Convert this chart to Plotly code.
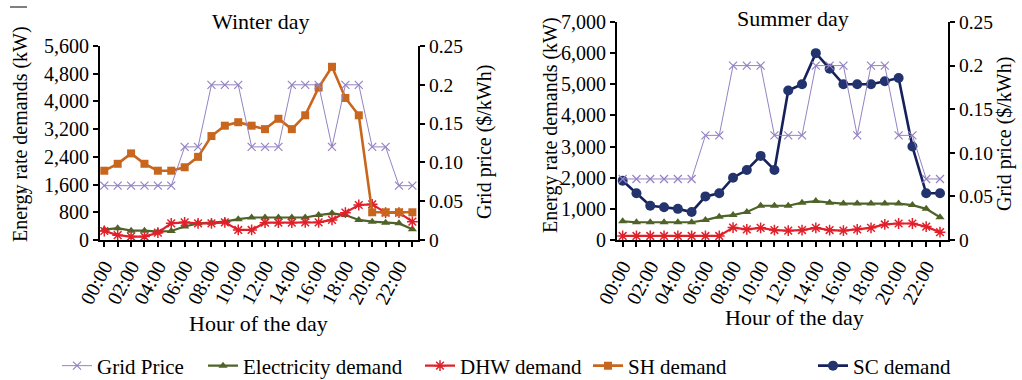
import plotly.graph_objects as go

# ---------------- data ----------------
hours = list(range(24))
hour_labels = ["00:00", "", "02:00", "", "04:00", "", "06:00", "", "08:00", "", "10:00", "",
               "12:00", "", "14:00", "", "16:00", "", "18:00", "", "20:00", "", "22:00", ""]

winter_grid_price = [0.07, 0.07, 0.07, 0.07, 0.07, 0.07, 0.12, 0.12, 0.20, 0.20, 0.20, 0.12,
                     0.12, 0.12, 0.20, 0.20, 0.20, 0.12, 0.20, 0.20, 0.12, 0.12, 0.07, 0.07]
winter_elec = [300, 340, 270, 270, 240, 260, 390, 480, 500, 530, 600, 650,
               650, 650, 650, 650, 720, 770, 720, 580, 530, 500, 480, 310]
winter_dhw = [260, 140, 100, 100, 210, 480, 510, 480, 480, 510, 290, 290,
              500, 500, 500, 510, 510, 580, 790, 1010, 1030, 790, 790, 530]
winter_sh = [2000, 2200, 2500, 2200, 2000, 2000, 2100, 2400, 3000, 3300, 3400, 3300,
             3200, 3500, 3200, 3600, 4400, 5000, 4100, 3600, 800, 800, 800, 800]

summer_grid_price = [0.07, 0.07, 0.07, 0.07, 0.07, 0.07, 0.12, 0.12, 0.20, 0.20, 0.20, 0.12,
                     0.12, 0.12, 0.20, 0.20, 0.20, 0.12, 0.20, 0.20, 0.12, 0.12, 0.07, 0.07]
summer_elec = [600, 570, 570, 570, 570, 570, 640, 750, 800, 900, 1100, 1100,
               1100, 1200, 1250, 1200, 1170, 1170, 1170, 1170, 1170, 1120, 1000, 730]
summer_dhw = [130, 130, 130, 130, 130, 130, 130, 130, 400, 340, 390, 320,
              300, 320, 390, 320, 300, 340, 390, 500, 530, 530, 430, 250]
summer_sc = [1900, 1500, 1100, 1050, 1000, 900, 1400, 1500, 2000, 2250, 2700, 2250,
             4800, 5000, 6000, 5500, 5000, 5000, 5000, 5100, 5200, 3000, 1500, 1500]

price_ticks = [0, 0.05, 0.10, 0.15, 0.20, 0.25]
price_ticktext = ["0", "0.05", "0.10", "0.15", "0.2", "0.25"]

# ---------------- styling ----------------
W, H = 1022, 380
FONT = "Liberation Serif, Times New Roman, serif"
C_PRICE = "#9483C4"
C_ELEC = "#4F6228"
C_DHW = "#E0202A"
C_SH = "#C8661E"
C_SC = "#16215C"
C_SC_M = "#22336E"


def px(x):
    return x / W


def py(y):
    return 1 - y / H


fig = go.Figure()


def add_panel(xa, ya, ya2, price, elec, dhw, extra, extra_name, first):
    fig.add_trace(go.Scatter(
        x=hours, y=price, name="Grid Price", xaxis=xa, yaxis=ya2,
        mode="lines+markers", line=dict(color=C_PRICE, width=1),
        marker=dict(symbol="x-thin-open", size=8, line=dict(color=C_PRICE, width=1.2)),
        showlegend=first, legend="legend"))
    fig.add_trace(go.Scatter(
        x=hours, y=elec, name="Electricity demand", xaxis=xa, yaxis=ya,
        mode="lines+markers", line=dict(color=C_ELEC, width=2.2),
        marker=dict(symbol="triangle-up", size=8, color=C_ELEC),
        showlegend=first, legend="legend2"))
    fig.add_trace(go.Scatter(
        x=hours, y=dhw, name="DHW demand", xaxis=xa, yaxis=ya,
        mode="lines+markers", line=dict(color=C_DHW, width=2.2),
        marker=dict(symbol="asterisk-open", size=9, line=dict(color=C_DHW, width=1.5)),
        showlegend=first, legend="legend3"))
    if extra_name == "SH demand":
        fig.add_trace(go.Scatter(
            x=hours, y=extra, name="SH demand", xaxis=xa, yaxis=ya,
            mode="lines+markers", line=dict(color=C_SH, width=2.6),
            marker=dict(symbol="square", size=8, color=C_SH),
            showlegend=True, legend="legend4"))
    else:
        fig.add_trace(go.Scatter(
            x=hours, y=extra, name="SC demand", xaxis=xa, yaxis=ya,
            mode="lines+markers", line=dict(color=C_SC, width=2.6),
            marker=dict(symbol="circle", size=10, color=C_SC_M),
            showlegend=True, legend="legend5"))


add_panel("x", "y", "y2", winter_grid_price, winter_elec, winter_dhw, winter_sh, "SH demand", True)
add_panel("x2", "y3", "y4", summer_grid_price, summer_elec, summer_dhw, summer_sc, "SC demand", False)

axis_common = dict(showline=True, linecolor="black", linewidth=2, showgrid=False, zeroline=False,
                   ticks="outside", ticklen=5, tickwidth=1.5, tickcolor="black",
                   tickfont=dict(family=FONT, size=20, color="black"))
right_font = dict(family=FONT, size=19.5, color="black")

xcommon = dict(axis_common, tickvals=hours, ticktext=hour_labels, tickangle=-62)

fig.update_layout(
    width=W, height=H, margin=dict(l=0, r=0, t=0, b=0, autoexpand=False),
    paper_bgcolor="white", plot_bgcolor="white",
    font=dict(family=FONT, size=20, color="black"),
    xaxis=dict(xcommon, domain=[px(100), px(418)], anchor="y", range=[-0.32, 23.42]),
    yaxis=dict(axis_common, domain=[py(240), py(46)], anchor="x", range=[0, 5600], dtick=800,
               tickformat=","),
    yaxis2=dict(axis_common, overlaying="y", side="right", anchor="x", range=[0, 0.25],
                tickvals=price_ticks, ticktext=price_ticktext, tickfont=right_font),
    xaxis2=dict(xcommon, domain=[px(617), px(948)], anchor="y3", range=[-0.41, 23.58]),
    yaxis3=dict(axis_common, domain=[py(240), py(22)], anchor="x2", range=[0, 7000], dtick=1000,
                tickformat=","),
    yaxis4=dict(axis_common, overlaying="y3", side="right", anchor="x2", range=[0, 0.25],
                tickvals=price_ticks, ticktext=price_ticktext, tickfont=right_font),
)

leg_common = dict(orientation="h", yanchor="middle", xanchor="left", y=py(366),
                  bgcolor="rgba(0,0,0,0)", font=dict(family=FONT, size=21, color="black"))
fig.update_layout(
    legend=dict(leg_common, x=px(57)),
    legend2=dict(leg_common, x=px(203)),
    legend3=dict(leg_common, x=px(420)),
    legend4=dict(leg_common, x=px(588)),
    legend5=dict(leg_common, x=px(813)),
)

annotations = [
    ("Winter day", 260, 22, 0, 22),
    ("Summer day", 793, 18, 0, 22),
    ("Hour of the day", 258, 323, 0, 22),
    ("Hour of the day", 794, 317, 0, 22),
    ("Energy rate demands (kW)", 20, 134, -90, 20),
    ("Energy rate demands (kW)", 550, 125, -90, 20),
    ("Grid price ($/kWh)", 484, 142, -90, 20),
    ("Grid price ($/kWh)", 1004, 134, -90, 20),
]
for text, x, y, ang, size in annotations:
    fig.add_annotation(text=text, x=px(x), y=py(y), xref="paper", yref="paper",
                       xanchor="center", yanchor="middle", showarrow=False, textangle=ang,
                       font=dict(family=FONT, size=size, color="black"))

# small stray rule marks next to the left axis title
fig.add_shape(type="line", xref="paper", yref="paper", x0=px(10), x1=px(27), y0=py(7), y1=py(7),
              line=dict(color="black", width=1))
fig.add_shape(type="line", xref="paper", yref="paper", x0=px(17), x1=px(27), y0=py(192), y1=py(192),
              line=dict(color="black", width=1))

fig.write_html("out.html")
